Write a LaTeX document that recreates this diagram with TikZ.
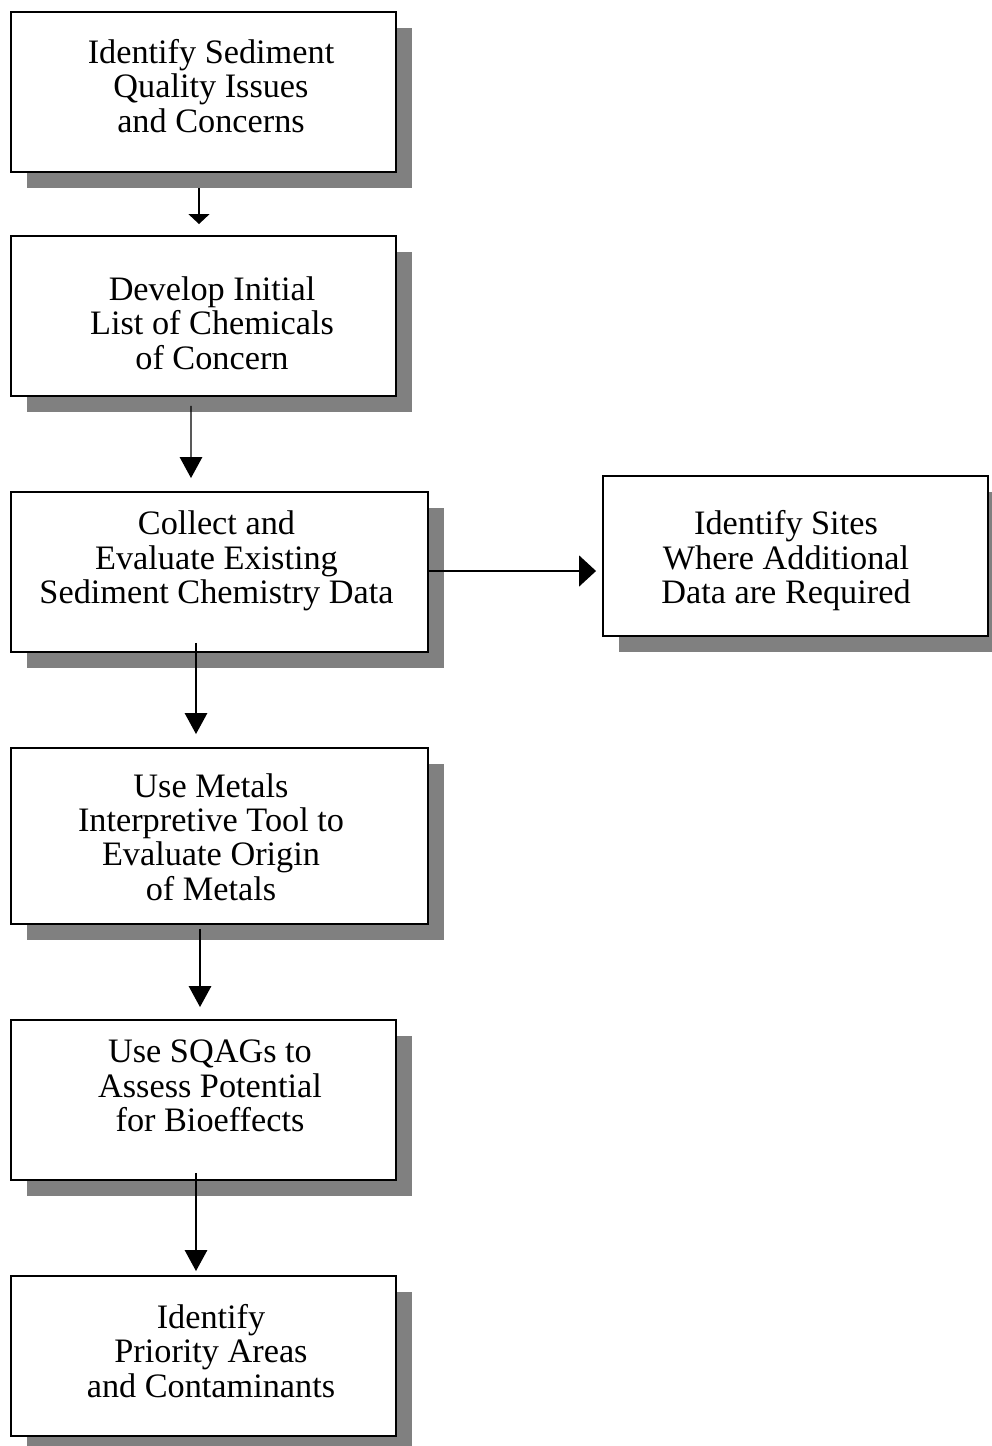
\documentclass[tikz,border=0pt]{standalone}
\usepackage{fontspec}
\setmainfont{Liberation Serif}
\usetikzlibrary{arrows.meta, positioning, shadows}
\definecolor{shadowgray}{RGB}{128,128,128}

\begin{document}
\begin{tikzpicture}[
    stepbox/.style={draw, line width=1.1pt, fill=white, minimum height=3.2cm,
        general shadow={fill=shadowgray, shadow xshift=0.32cm, shadow yshift=-0.32cm}},
    narrow/.style={stepbox, minimum width=7.7cm},
    wide/.style={stepbox, minimum width=8.34cm},
    steptext/.style={align=center, inner sep=0pt, font=\fontsize{19.5}{19.6}\selectfont},
    flow/.style={line width=0.8pt, -{Triangle[width=0.45cm, length=0.42cm]}}
  ]
  \useasboundingbox (0,0) rectangle (19.82,-28.92);

  % the boxes
  \node[narrow] (issues) at (4.07,-1.84) {};
  \node[narrow] (initial) at (4.07,-6.32) {};
  \node[wide] (collect) at (4.39,-11.44) {};
  \node[narrow] (sites) at (15.91,-11.12) {};
  \node[wide, minimum height=3.52cm] (metals) at (4.39,-16.72) {};
  \node[narrow] (sqags) at (4.07,-22.0) {};
  \node[narrow] (priority) at (4.07,-27.12) {};

  % their texts
  \node[steptext] (issuestext) at ([shift={(0.15,0.12)}]issues.center)
      {Identify Sediment\\Quality Issues\\and Concerns};
  \node[steptext] (initialtext) at ([shift={(0.17,-0.14)}]initial.center)
      {Develop Initial\\List of Chemicals\\of Concern};
  \node[steptext] (collecttext) at ([shift={(-0.06,0.22)}]collect.center)
      {Collect and\\Evaluate Existing\\Sediment Chemistry Data};
  \node[steptext] (sitestext) at ([shift={(-0.19,-0.1)}]sites.center)
      {Identify Sites\\Where Additional\\Data are Required};
  \node[steptext] (metalstext) at ([shift={(-0.17,-0.02)}]metals.center)
      {Use Metals\\Interpretive Tool to\\Evaluate Origin\\of Metals};
  \node[steptext] (sqagstext) at ([shift={(0.13,0.28)}]sqags.center)
      {Use SQAGs to\\Assess Potential\\for Bioeffects};
  \node[steptext] (prioritytext) at ([shift={(0.15,0.1)}]priority.center)
      {Identify\\Priority Areas\\and Contaminants};

  % arrows
  \draw[line width=0.8pt, -{Triangle[width=0.42cm, length=0.2cm]}]
      ([shift={(-0.09,-0.3)}]issues.south) -- ([shift={(-0.09,0.22)}]initial.north);
  \draw[flow] ([shift={(-0.25,-0.18)}]initial.south) -- ([shift={(-0.57,0.26)}]collect.north);
  \draw[line width=0.8pt, -{Triangle[width=0.62cm, length=0.34cm]}]
      ([yshift=0.02cm]collect.east) -- ([yshift=0.02cm]collect.east -| sites.west)
      [shorten >=0.12cm];
  \draw[flow] ([shift={(-0.47,0.2)}]collect.south) -- ([shift={(-0.47,0.26)}]metals.north);
  \draw[flow] ([shift={(-0.39,-0.08)}]metals.south) -- ([shift={(-0.07,0.24)}]sqags.north);
  \draw[flow] ([shift={(-0.15,0.16)}]sqags.south) -- ([shift={(-0.15,0.08)}]priority.north);
\end{tikzpicture}
\end{document}
